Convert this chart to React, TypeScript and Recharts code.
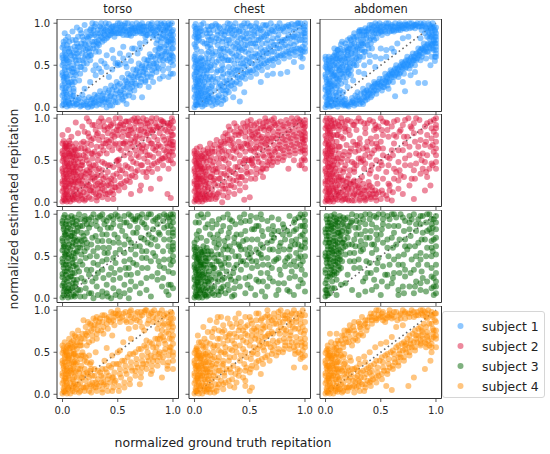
import React from 'react';
import { ScatterChart, Scatter, XAxis, YAxis, ReferenceLine, ReferenceArea } from 'recharts';

const sites = ['torso', 'chest', 'abdomen'];
const subjects = ['subject 1', 'subject 2', 'subject 3', 'subject 4'];
const colors = ['#1E90FF', '#DC143C', '#006400', '#FF8C00'];
const axisTicks = [0, 0.5, 1];
const xLabel = 'normalized ground truth repitation';
const yLabel = 'normalized estimated repitation';

// values in percent: [ground truth, estimated]
const s1Torso = [[0,2],[1,8],[0,14],[2,20],[0,26],[1,32],[0,38],[2,44],[0,50],[1,56],[0,62],[2,68],[1,74],[3,4],[4,12],[3,18],[5,26],[4,34],[3,40],[5,48],[4,56],[3,62],[5,70],[6,78],[7,2],[8,10],[7,16],[6,22],[8,30],[7,38],[8,46],[6,54],[8,62],[7,70],[9,80],
[11,2],[12,8],[10,14],[11,30],[12,38],[10,46],[13,52],[11,60],[12,68],[13,76],[14,84],[10,22],[13,44],
[5,84],[9,90],[13,95],[20,98],[27,100],[3,80],[16,92],[2,88],
[16,1],[17,6],[15,11],[18,15],[16,40],[17,48],[15,56],[18,64],[16,72],[19,80],[17,88],[20,58],[15,32],
[21,2],[22,7],[24,12],[23,0],[22,52],[23,60],[21,68],[24,76],[22,84],[25,92],[24,66],[20,45],
[26,1],[28,5],[27,10],[29,15],[26,62],[28,70],[27,78],[29,86],[26,94],[30,99],[25,56],
[31,2],[33,8],[32,14],[34,19],[31,72],[33,80],[32,88],[34,96],[35,100],[33,66],
[36,3],[38,10],[37,16],[39,22],[36,78],[38,86],[37,94],[39,100],[40,82],
[41,6],[43,13],[42,20],[44,26],[41,84],[43,92],[42,99],[45,88],[40,0],
[46,8],[48,16],[47,24],[49,30],[45,2],[46,90],[48,97],[47,84],[50,100],
[51,12],[53,20],[52,28],[54,35],[50,6],[51,88],[53,95],[52,100],[55,91],
[56,16],[58,24],[57,32],[59,40],[55,8],[56,97],[58,90],[57,100],[60,86],
[61,22],[63,30],[62,38],[64,45],[60,14],[61,92],[63,99],[62,85],[65,94],
[66,28],[68,36],[67,44],[69,52],[65,20],[66,88],[68,96],[67,100],[70,90],
[71,34],[73,42],[72,50],[74,57],[70,26],[71,95],[73,88],[72,100],[75,84],
[76,40],[78,48],[77,56],[79,63],[75,32],[76,92],[78,99],[77,86],[80,94],
[81,44],[83,52],[82,60],[84,68],[80,36],[81,100],[83,90],[82,84],[85,96],
[86,48],[88,56],[87,64],[89,72],[85,42],[86,80],[88,88],[87,95],[89,100],
[91,50],[93,58],[92,66],[94,74],[90,82],[92,90],[93,97],[91,44],
[96,46],[98,54],[97,62],[99,70],[96,78],[98,86],[97,94],[99,100],[100,40],[100,60],[100,80],[100,92],
[25,30],[30,38],[35,42],[40,48],[45,45],[48,52],[50,50],[52,51],[50,53],[55,58],[60,62],[35,55],[40,62],[45,68],[55,72],[65,70],[70,76],[20,22],[30,50],[42,36],[58,48],[62,55],[68,64],[75,78],[28,44],
[58,4],[64,12],[72,12],[78,24],[82,30],[91,37],[98,40],[75,30],[88,34],[96,36],
[1,4],[2,11],[1,17],[0,23],[2,29],[1,35],[0,41],[2,47],[1,53],[0,59],[2,65],[0,71],[4,1],[5,8],[4,15],[3,23],[5,30],[4,37],[6,44],[5,52],[4,59],[6,66],[4,74],[9,5],[9,13],[10,19],[9,27],[10,34],[9,42],[10,50],[9,57],[10,65],[11,72],[12,80],
[13,4],[14,9],[19,3],[20,10],[25,4],[26,9],[30,6],[31,12],[35,8],[36,14],[40,10],[41,17],[44,14],[45,21],[49,20],[50,26],[53,15],[55,25],[58,30],[60,35],[62,28],[64,36],[66,40],[68,46],[70,42],[72,48],[74,46],[76,52],[78,56],[80,60],[82,52],[84,58],[86,62],[88,70],[90,62],[92,72],[94,66],[95,78],[97,58],[99,62],[100,50],[100,70],[98,76],[100,86],[95,90],[97,98],[93,84],[90,92],
[14,60],[15,66],[18,56],[19,70],[20,76],[21,62],[23,82],[25,70],[26,86],[28,92],[29,78],[31,84],[30,66],[32,76],[34,88],[35,94],[36,82],[38,90],[40,96],[42,86],[44,90],[45,96],[47,90],[49,94],[50,88],[52,92],[54,98],[55,86],[57,94],[59,100],[60,92],[62,96],[64,88],[66,94],[68,90],[70,98],[72,92],[74,96],[76,86],[78,92],[80,98],[82,94],[84,88],[86,100],[88,94],[90,98],[92,100],[94,94],[96,100],[74,90],[63,92]];
const s1TorsoExtra = [[3,7],[6,5],[2,36],[6,29],[3,58],[7,64],[1,78],[11,41],[12,56],[13,64],[14,72],[16,48],[17,76],[18,84],[19,52],[21,74],[22,90],[23,70],[24,84],[25,62],[27,88],[28,74],[29,96],[31,78],[32,92],[33,74],[35,84],[37,88],[38,80],[39,92],[41,90],[43,86],[44,94],[46,96],[48,88],[51,94],[53,88],[56,92],[58,86],[61,88],[63,94],[66,91],[69,94],[71,88],[73,96],[76,96],[79,88],[81,92],[83,86],[86,92],[88,84],[91,86],[93,92],[95,84],[97,88],[99,82],
[6,3],[12,4],[17,2],[22,4],[27,2],[29,8],[33,4],[36,10],[38,6],[42,8],[43,2],[47,12],[48,6],[52,18],[54,10],[56,22],[57,13],[59,28],[61,18],[63,24],[65,33],[67,26],[69,38],[71,30],[73,38],[75,45],[77,36],[79,50],[81,40],[83,46],[85,52],[87,46],[89,60],[91,56],[93,64],[95,56],[96,70],[98,64],[100,56],[100,76],[99,90],[95,96],[98,80],[94,80],[89,78],[87,70],[85,76],
[33,46],[38,52],[46,58],[52,64],[57,52],[63,70],[70,70]];

const s1Chest = [[0,0],[1,6],[0,12],[2,18],[0,24],[1,30],[0,36],[2,42],[0,48],[1,54],[0,60],[2,78],[0,84],[1,90],[0,96],[3,3],[4,10],[3,16],[5,22],[4,28],[3,34],[5,40],[4,46],[3,52],[5,58],[4,80],[3,88],[5,94],[7,1],[8,8],[7,14],[6,20],[8,26],[7,32],[8,38],[6,44],[8,50],[7,56],[7,86],[8,100],[6,66],
[11,4],[12,10],[10,16],[13,22],[11,40],[12,46],[10,52],[13,58],[11,64],[12,72],[13,80],[11,88],[12,96],[16,2],[17,8],[15,14],[18,20],[16,26],[17,36],[15,44],[18,50],[16,56],[17,62],[15,70],[18,78],[16,84],[17,92],[19,99],
[21,6],[22,14],[24,20],[23,28],[21,34],[22,56],[24,62],[23,68],[21,74],[22,80],[24,88],[23,94],[26,8],[28,16],[27,24],[29,32],[26,40],[28,60],[27,66],[29,74],[26,82],[28,90],[27,96],[25,50],[30,100],
[31,18],[33,26],[32,34],[34,40],[31,48],[33,56],[32,76],[34,82],[31,88],[33,94],[32,99],[36,22],[38,30],[37,38],[39,44],[36,52],[38,62],[37,70],[39,78],[36,86],[38,92],[37,100],
[41,28],[43,36],[42,44],[44,52],[41,60],[43,68],[42,76],[44,84],[41,90],[43,97],[46,34],[48,42],[47,50],[49,58],[46,66],[48,74],[47,82],[49,88],[46,95],[48,100],
[51,36],[53,44],[52,52],[54,60],[51,68],[53,76],[52,84],[54,90],[51,97],[56,40],[58,48],[57,56],[59,64],[56,72],[58,80],[57,88],[59,94],[56,100],
[61,44],[63,52],[62,60],[64,68],[61,76],[63,84],[62,90],[64,97],[66,48],[68,56],[67,64],[69,72],[66,80],[68,88],[67,94],[69,100],
[71,50],[73,58],[72,66],[74,74],[71,82],[73,90],[72,96],[76,54],[78,62],[77,70],[79,78],[76,86],[78,92],[77,100],
[81,58],[83,66],[82,74],[84,82],[81,90],[83,96],[86,60],[88,68],[87,76],[89,84],[86,92],[88,99],
[91,62],[93,70],[92,78],[94,86],[91,94],[93,100],[96,64],[98,72],[97,80],[99,88],[96,96],[100,66],[100,76],[100,84],[100,92],[100,100],[98,58],
[41,7],[28,10],[71,40],[78,40],[84,42],[97,48],[90,54],[96,60],[45,18],[60,30],[66,38],[35,12],
[1,3],[2,9],[1,15],[0,21],[2,27],[1,33],[0,39],[2,45],[1,51],[0,57],[1,72],[0,75],[2,82],[1,87],[2,94],[1,99],[4,6],[5,13],[4,19],[3,25],[5,31],[4,37],[6,50],[5,54],[4,84],[5,90],[6,98],[9,3],[10,10],[9,18],[10,24],[9,30],[10,36],[9,44],[10,58],[9,76],[10,92],[14,6],[13,12],[14,18],[13,30],[14,36],[14,48],[13,66],[14,74],[14,88],[15,96],[19,4],[20,12],[19,30],[20,42],[20,54],[19,66],[20,82],[21,90],[20,97],[24,4],[25,12],[24,26],[25,36],[24,44],[25,58],[24,70],[25,78],[26,90],[29,20],[30,28],[30,40],[30,56],[30,68],[29,80],[30,94],[34,30],[35,46],[34,64],[35,72],[34,88],[35,96],[39,36],[40,48],[39,56],[40,66],[40,72],[39,84],[40,90],[44,40],[45,48],[44,58],[45,70],[45,80],[44,90],[45,100],[50,44],[50,54],[49,64],[50,80],[50,96],[55,50],[55,64],[55,76],[54,86],[55,96],[60,52],[60,58],[60,70],[60,82],[60,92],[65,56],[65,64],[65,76],[65,86],[65,98],[70,58],[70,66],[70,78],[70,92],[75,62],[75,70],[75,82],[75,96],[80,64],[80,72],[80,80],[80,94],[85,66],[85,72],[85,86],[85,98],[90,68],[90,74],[90,84],[90,90],[95,70],[95,80],[95,92],[94,100],[98,66],[99,94],[100,70],[100,80],[100,88],[100,96]];
const s1ChestExtra = [[2,3],[3,12],[2,24],[3,31],[1,42],[3,47],[2,56],[1,63],[2,69],[3,84],[1,93],[6,4],[7,11],[6,17],[7,24],[6,35],[7,47],[6,59],[7,78],[6,91],[11,7],[12,14],[11,20],[12,33],[11,44],[12,53],[11,76],[12,84],[13,92],[16,10],[15,24],[16,33],[15,50],[16,64],[15,80],[16,97],[21,10],[22,24],[21,44],[22,62],[21,86],[22,96],[26,20],[27,30],[26,46],[27,56],[26,70],[27,86],[31,24],[32,42],[31,56],[32,66],[31,80],[32,92],[36,28],[37,44],[36,60],[37,76],[36,92],[41,34],[42,52],[41,70],[42,82],[41,96],[46,40],[47,56],[46,74],[47,88],[51,42],[52,60],[51,76],[52,92],[56,46],[57,62],[56,80],[57,94],[61,50],[62,66],[61,84],[62,98],[66,54],[67,70],[66,88],[71,56],[72,74],[71,90],[76,60],[77,78],[76,94],[81,62],[82,80],[81,96],[86,64],[87,82],[86,96],[91,66],[92,84],[91,98],[96,68],[97,86],[96,100]];

const s1Abdomen = [[0,0],[1,6],[0,12],[2,18],[0,24],[1,30],[0,36],[2,42],[0,48],[1,54],[0,60],[3,3],[4,10],[3,16],[5,22],[4,28],[3,34],[5,40],[4,46],[3,52],[5,58],[7,2],[8,8],[7,14],[6,20],[8,26],[7,32],[8,38],[6,44],[8,50],[7,56],[8,62],
[11,1],[12,7],[10,14],[13,20],[11,26],[12,32],[10,38],[13,44],[11,50],[12,56],[10,62],[11,68],[14,75],
[16,2],[17,8],[15,12],[18,30],[16,36],[17,42],[15,48],[18,54],[16,60],[17,66],[19,72],[20,80],
[21,1],[22,6],[24,11],[23,38],[21,46],[22,52],[24,58],[23,64],[21,70],[24,76],[22,82],
[26,2],[28,8],[27,14],[29,18],[26,50],[28,58],[27,64],[29,70],[26,76],[28,84],[30,90],
[31,4],[33,10],[32,16],[34,22],[31,60],[33,68],[32,74],[34,80],[31,86],[33,92],
[36,8],[38,14],[37,20],[39,26],[36,66],[38,74],[37,82],[39,88],[36,94],[40,98],
[41,12],[43,18],[42,24],[44,30],[41,76],[43,84],[42,90],[44,96],[45,100],
[46,16],[48,22],[47,28],[49,34],[46,82],[48,88],[47,94],[49,100],
[51,20],[53,28],[52,34],[54,40],[51,86],[53,92],[52,98],[55,95],
[56,26],[58,32],[57,38],[59,44],[56,88],[58,94],[57,100],[60,91],
[61,30],[63,38],[62,44],[64,50],[61,96],[63,100],[62,90],[65,95],
[66,36],[68,42],[67,48],[69,54],[66,92],[68,98],[67,100],[70,94],
[71,40],[73,48],[72,54],[74,60],[71,98],[73,93],[72,100],[75,96],
[76,46],[78,52],[77,58],[79,64],[76,100],[78,95],[80,98],
[81,50],[83,58],[82,64],[84,70],[81,94],[83,100],[85,96],
[86,56],[88,64],[87,70],[89,76],[86,82],[88,98],[87,92],[89,100],
[91,58],[93,66],[92,74],[94,82],[90,88],[92,94],[93,100],
[96,60],[98,68],[97,76],[99,84],[96,90],[98,96],[97,100],[100,64],[100,72],[100,80],[100,88],[100,95],
[25,32],[30,42],[35,50],[40,54],[45,60],[50,58],[55,68],[60,70],[65,76],[70,82],[35,40],[45,48],[55,60],[62,66],[75,84],[20,24],[50,70],[40,62],
[11,68],[20,66],[8,70],[15,78],[26,88],
[63,13],[57,22],[70,30],[72,19],[84,29],[90,29],[99,60],[99,55],[77,38],[81,42],[95,50],
[1,3],[2,9],[1,15],[0,21],[2,27],[1,33],[0,39],[2,45],[1,51],[0,57],[4,1],[5,7],[4,13],[3,19],[5,25],[4,31],[6,37],[5,43],[4,49],[6,55],[3,60],[9,4],[10,10],[9,17],[10,23],[9,29],[10,35],[9,41],[10,47],[9,53],[10,58],[9,65],[14,4],[13,10],[14,28],[13,34],[14,40],[13,46],[14,52],[13,58],[14,64],[13,70],[19,4],[18,10],[19,36],[20,42],[19,48],[20,54],[19,60],[20,68],[18,76],[24,6],[23,44],[25,52],[24,64],[25,70],[23,80],[29,12],[28,50],[30,56],[29,62],[30,74],[29,80],[31,90],[34,4],[35,16],[34,60],[35,66],[34,74],[35,86],[33,86],[38,20],[39,70],[40,80],[39,94],[37,90],[42,70],[44,80],[43,92],[42,98],[46,88],[48,94],[50,90],[50,96],[54,90],[55,100],[59,96],[60,98],[64,92],[66,98],[69,96],[74,98],[78,100],[82,98],[86,100],[90,96],[94,98],[96,96],[99,92],
[43,24],[45,28],[48,30],[50,26],[52,24],[54,32],[55,36],[57,30],[59,38],[60,42],[62,36],[64,42],[65,46],[67,40],[69,48],[70,52],[72,46],[74,52],[75,56],[77,50],[79,56],[80,60],[82,56],[84,62],[85,66],[87,60],[89,68],[90,72],[92,66],[94,72],[95,76],[97,70],[99,76],[98,80],[96,84],[94,88],[92,84],[99,90],[100,68],[100,76],[100,84],[38,10],[35,12],[31,8],[26,5],[20,2],[17,4],[44,20],[40,16]];
const s1AbdomenExtra = [[2,4],[3,10],[2,22],[3,28],[1,46],[3,56],[6,2],[7,9],[6,26],[7,38],[6,50],[7,60],[11,4],[12,17],[11,34],[12,44],[11,58],[12,64],[15,6],[16,18],[15,40],[16,50],[15,56],[16,68],[18,44],[17,58],[21,40],[22,48],[21,58],[22,70],[23,74],[20,62],[26,56],[27,68],[26,82],[28,72],[25,84],[31,68],[32,80],[31,92],[33,76],[36,76],[37,86],[38,92],[35,90],[41,82],[42,94],[44,88],[46,92],[47,98],[49,92],[51,90],[53,96],[56,96],[58,90],[61,92],[63,96],[66,94],[68,92],[71,94],[73,98],[76,94],[79,96],[81,98],[84,96],[87,96],[91,94],[95,94],[97,94],
[18,2],[23,4],[25,8],[28,4],[30,10],[33,6],[35,18],[37,12],[39,18],[41,20],[42,14],[44,26],[46,20],[47,24],[49,28],[51,30],[53,24],[55,30],[56,34],[58,40],[60,36],[61,40],[63,46],[65,40],[66,44],[68,50],[70,46],[71,50],[73,56],[75,50],[76,54],[78,60],[80,56],[81,58],[83,64],[85,62],[86,68],[88,70],[90,66],[91,70],[93,76],[95,70],[96,74],[98,78],[100,60],[97,86],[95,84],[93,90]];

const s2Torso = [[0,1],[1,7],[0,13],[2,19],[0,25],[1,31],[0,37],[2,43],[0,49],[1,55],[0,61],[2,67],[1,73],[3,4],[4,10],[3,16],[5,22],[4,28],[3,34],[5,40],[4,46],[3,52],[5,58],[4,64],[3,70],[7,1],[8,7],[7,13],[6,19],[8,25],[7,31],[8,37],[6,43],[8,49],[7,55],[8,61],[6,67],[10,3],[11,9],[12,15],[10,21],[11,27],[12,33],[10,39],[11,45],[12,51],[10,57],[11,63],[12,70],
[0,80],[8,78],[5,86],[14,82],[18,90],[12,95],[22,100],[24,96],
[15,2],[17,8],[16,14],[18,20],[15,26],[17,32],[16,40],[18,48],[15,56],[17,64],[19,72],[20,2],[22,10],[21,16],[23,24],[20,30],[22,38],[24,46],[21,54],[23,62],[22,70],[24,78],[20,84],[26,4],[28,12],[27,18],[29,26],[26,34],[28,44],[27,52],[29,60],[26,68],[28,76],[30,86],[27,92],
[31,2],[33,8],[32,16],[34,24],[31,32],[33,40],[32,50],[34,58],[31,66],[33,74],[32,82],[34,90],[35,100],[36,6],[38,14],[37,22],[39,30],[36,38],[38,46],[37,62],[39,70],[36,78],[38,86],[37,96],[41,4],[43,12],[42,20],[44,28],[41,36],[43,44],[42,66],[44,74],[41,82],[43,90],[42,98],[46,10],[48,18],[47,26],[49,34],[46,42],[48,70],[47,78],[49,86],[46,94],[48,100],
[50,50],[51,51],[49,49],
[51,14],[53,22],[52,30],[54,38],[51,44],[53,62],[52,70],[54,78],[51,86],[53,94],[52,100],[56,18],[58,26],[57,34],[59,42],[56,56],[58,64],[57,72],[59,80],[56,88],[58,96],[61,24],[63,32],[62,40],[64,48],[61,58],[63,66],[62,74],[64,82],[61,90],[63,98],[66,30],[68,38],[67,46],[69,54],[66,62],[68,70],[67,78],[69,86],[66,94],[68,100],
[71,20],[73,36],[72,44],[74,52],[71,60],[73,68],[72,76],[74,84],[71,92],[73,100],[76,30],[78,40],[77,48],[79,56],[76,66],[78,74],[77,82],[79,90],[76,98],[81,36],[83,46],[82,54],[84,62],[81,70],[83,78],[82,86],[84,94],[81,100],[86,40],[88,50],[87,58],[89,66],[86,74],[88,82],[87,90],[89,98],[91,44],[93,54],[92,62],[94,70],[91,78],[93,86],[92,94],[96,40],[98,50],[97,60],[99,68],[96,76],[98,84],[97,92],[99,100],[100,56],[100,64],[100,72],[100,80],[100,88],[100,46],
[95,10],[98,5],[80,16],[70,14],[88,28],[62,10],
[1,4],[2,10],[1,16],[0,22],[2,28],[1,34],[0,40],[2,46],[1,52],[0,58],[2,64],[0,70],[4,1],[5,7],[4,13],[3,19],[5,25],[4,31],[6,37],[5,43],[4,49],[6,55],[5,61],[4,67],[6,73],[9,4],[10,10],[9,16],[10,24],[9,30],[10,36],[9,42],[10,48],[9,54],[10,60],[9,66],[13,4],[14,10],[13,18],[14,24],[13,30],[14,36],[13,42],[14,48],[13,56],[14,64],[18,4],[19,12],[18,26],[19,36],[18,44],[19,56],[20,64],[24,6],[25,14],[24,20],[25,30],[24,36],[25,42],[26,58],[30,10],[30,20],[30,30],[30,44],[34,12],[35,20],[35,32],[39,10],[40,20],[45,14],[44,22],
[50,80],[55,84],[55,92],[60,86],[60,96],[65,88],[65,100],[70,80],[70,96],[75,88],[75,94],[80,86],[80,96],[85,90],[85,100],[90,88],[90,96],[95,84],[95,94],[100,96],[94,60],[95,66],[98,74],[100,68],[96,56],[90,52],[85,66],[80,70],[75,60],[70,66],[65,72],[60,80],[55,70],[45,62],[40,58],[35,66],[40,74],[45,80],[50,90],[44,92]];
const s2TorsoExtra = [[2,2],[3,9],[2,25],[3,38],[2,56],[3,66],[6,4],[7,22],[6,34],[7,46],[6,58],[7,70],[11,6],[12,24],[11,36],[12,42],[11,54],[12,62],[16,8],[17,22],[16,30],[17,44],[16,52],[17,70],[21,4],[22,20],[21,34],[22,50],[21,60],[23,82],[26,14],[27,28],[26,40],[27,58],[26,74],[29,92],[31,6],[32,22],[31,38],[32,56],[31,80],[33,96],[36,16],[37,28],[36,48],[37,70],[38,90],[41,10],[42,26],[41,44],[42,72],[41,88],[46,4],[47,18],[46,32],[47,68],[46,84],[51,20],[52,38],[51,64],[52,92],[56,24],[57,44],[56,70],[57,96],[61,30],[62,52],[61,70],[62,86],[66,36],[67,56],[66,76],[67,96],[71,44],[72,64],[71,86],[76,36],[77,56],[76,80],[77,94],[81,44],[82,64],[81,84],[86,48],[87,68],[86,88],[91,52],[92,74],[91,96],[96,50],[97,70],[96,90],[99,60],[99,80],[98,94]];

const s2Chest = [[0,1],[1,7],[0,13],[2,19],[0,25],[1,31],[0,37],[2,43],[0,49],[1,55],[0,61],[3,4],[4,10],[3,16],[5,22],[4,28],[3,34],[5,40],[4,46],[3,52],[5,58],[7,1],[8,7],[7,13],[6,19],[8,25],[7,31],[8,37],[6,43],[8,49],[7,55],[8,62],[10,3],[11,9],[12,15],[10,21],[11,27],
[2,64],[5,66],[10,58],[12,64],[14,70],[11,48],[16,60],[18,68],[20,74],[15,54],[22,64],[24,72],[26,78],[28,70],[30,80],[32,86],[27,62],[34,76],[36,84],[38,90],[40,80],[42,88],[44,94],[46,84],[33,68],
[15,4],[17,10],[16,16],[18,22],[15,30],[17,38],[16,44],[20,6],[22,12],[21,20],[23,28],[20,36],[22,46],[24,52],[26,8],[28,16],[27,24],[29,32],[26,42],[28,50],[31,12],[33,20],[32,28],[34,36],[31,46],[33,54],[36,18],[38,26],[37,34],[39,42],[36,52],[38,60],[41,22],[43,30],[42,38],[44,46],[41,56],[43,64],[46,26],[48,34],[47,42],[49,50],[46,60],[48,68],[45,3],[50,6],[25,0],
[51,36],[53,44],[52,52],[54,60],[51,70],[53,78],[52,86],[54,92],[51,98],[56,40],[58,48],[57,56],[59,64],[56,72],[58,80],[57,88],[59,96],[61,46],[63,54],[62,62],[64,70],[61,78],[63,86],[62,94],[64,100],[66,48],[68,56],[67,64],[69,72],[66,80],[68,88],[67,96],[71,52],[73,60],[72,68],[74,76],[71,84],[73,92],[72,100],[76,56],[78,64],[77,72],[79,80],[76,88],[78,96],[81,58],[83,66],[82,74],[84,82],[81,90],[83,98],[86,60],[88,68],[87,76],[89,84],[86,92],[88,100],[91,62],[93,70],[92,78],[94,86],[91,94],[93,100],[96,64],[98,72],[97,80],[99,88],[96,96],[100,40],[100,50],[100,58],[100,66],[100,74],[100,82],[100,90],[100,98],[97,50],[95,44],[85,40],[90,50],
[50,50],[52,50],[60,36],[65,40],[70,44],[75,48],[80,50],[55,28],[62,30],
[1,4],[2,10],[1,16],[0,22],[2,28],[1,34],[0,40],[2,46],[1,52],[0,58],[4,1],[5,7],[4,13],[3,19],[5,25],[4,31],[6,37],[5,43],[4,49],[6,55],[9,4],[10,10],[9,16],[10,24],[9,30],[10,36],[9,42],[9,52],[13,4],[14,10],[13,22],[14,30],[13,40],[14,50],[13,58],[19,4],[18,28],[19,40],[20,52],[18,60],[25,20],[24,34],[25,60],[24,66],[30,6],[30,40],[29,56],[30,74],[35,26],[35,62],[35,70],[40,30],[40,66],[40,72],[42,82],[45,50],[45,70],[46,78],[48,90],[48,96],[50,64],[50,76],[50,84],[55,64],[55,76],[55,82],[56,94],[60,68],[60,76],[60,88],[65,68],[65,76],[65,90],[65,96],[70,56],[70,76],[70,90],[70,98],[75,64],[75,80],[75,94],[80,62],[80,76],[80,92],[85,64],[85,78],[85,94],[90,66],[90,80],[90,96],[95,68],[95,82],[95,98],[98,62],[98,76],[98,92],[100,62],[100,78],[100,94],[97,44],[62,40],[68,50]];
const s2ChestExtra = [[2,3],[3,9],[2,22],[3,28],[1,46],[3,40],[2,58],[6,4],[7,10],[6,28],[7,40],[6,52],[11,6],[12,18],[11,33],[12,42],[11,54],[12,60],[16,8],[17,26],[16,34],[17,48],[16,64],[21,10],[22,28],[21,40],[22,58],[23,68],[26,16],[27,34],[26,52],[27,72],[28,82],[31,20],[32,38],[31,60],[32,74],[31,90],[36,10],[37,42],[36,64],[37,80],[36,94],[41,14],[42,30],[41,48],[42,66],[41,84],[46,18],[47,36],[46,52],[47,70],[46,90],[51,28],[52,46],[51,62],[52,80],[51,92],[56,34],[57,52],[56,66],[57,84],[61,40],[62,56],[61,72],[62,90],[66,44],[67,60],[66,74],[67,86],[71,48],[72,62],[71,78],[72,94],[76,52],[77,68],[76,84],[81,54],[82,70],[81,86],[86,56],[87,72],[86,86],[91,58],[92,74],[91,90],[96,60],[97,76],[96,92],[99,52],[99,70],[99,84]];

const s2Abdomen = [[0,1],[1,7],[0,13],[2,19],[0,25],[1,31],[0,37],[2,43],[0,49],[1,55],[0,61],[2,67],[1,73],[0,79],[2,85],[1,91],[0,97],[3,4],[4,10],[3,16],[5,22],[4,28],[3,34],[5,40],[4,46],[3,52],[5,58],[4,64],[3,70],[5,76],[4,82],[3,88],[5,94],[4,100],[7,1],[8,7],[7,13],[6,19],[8,25],[7,31],[8,37],[6,43],[8,49],[7,55],[6,61],[8,67],[7,80],[8,90],[7,98],[11,3],[12,9],[10,15],[11,21],[12,27],[10,33],[11,45],[12,58],[10,72],[12,86],[11,96],
[15,2],[17,8],[16,14],[18,20],[15,26],[20,4],[22,10],[21,16],[23,22],[20,28],[26,2],[28,8],[27,14],[29,20],[26,26],[31,4],[33,10],[32,16],[34,22],[36,2],[38,8],[37,14],[39,24],[41,4],[43,10],[42,18],[46,2],[48,12],[50,4],[55,8],[58,14],[60,2],
[16,36],[18,44],[15,52],[17,60],[19,68],[16,76],[18,84],[22,38],[24,48],[21,56],[23,64],[25,72],[22,80],[26,36],[28,44],[30,52],[27,60],[29,68],[31,76],[28,86],[33,30],[35,40],[32,48],[36,56],[34,64],[38,72],[36,82],[40,34],[42,44],[40,54],[44,62],[42,70],[46,78],[44,86],[46,30],[48,40],[50,48],[52,56],[48,64],[50,72],[52,80],[55,36],[57,44],[58,20],[62,28],[64,36],[60,62],[62,70],[64,78],[56,86],[66,26],[68,32],[70,62],[72,70],[74,78],[78,28],[80,38],[82,46],[76,56],[84,66],[86,74],[80,82],[88,40],[90,48],[88,58],[92,30],[95,20],[90,14],[80,4],[70,10],[58,52],[66,48],[72,44],[85,56],[94,40],
[15,95],[20,98],[25,92],[30,100],[35,94],[40,98],[45,92],[50,100],[55,95],[60,90],[65,98],[70,92],[75,100],[80,94],[85,98],[90,90],[95,96],[100,100],[18,90],[48,90],[68,86],[78,88],
[100,40],[100,48],[100,56],[100,64],[100,72],[100,80],[100,88],[97,44],[98,60],[96,76],[98,84],[95,66],[92,80],[90,68],
[1,4],[2,10],[1,16],[0,22],[2,28],[1,34],[0,40],[2,46],[1,52],[0,58],[2,64],[0,70],[1,76],[2,82],[0,88],[2,94],[1,100],[4,1],[5,7],[4,13],[6,25],[5,31],[4,37],[6,49],[5,55],[4,61],[6,73],[5,79],[4,85],[6,91],[5,97],[9,4],[10,10],[9,18],[10,26],[9,40],[10,52],[9,62],[10,80],[9,94],[13,6],[14,12],[13,20],[14,30],[13,38],[14,48],[13,66],[14,78],[13,90],[14,100],[18,4],[19,10],[20,16],[19,24],[24,2],[25,8],[24,16],[25,24],[30,12],[30,18],[35,6],[35,14],[40,10],[40,20],[45,6],[45,14],[52,10],[18,96],[28,96],[38,94],[52,96],[62,96],[72,98],[82,100],[92,94],[98,98],[100,92],[26,46],[34,50],[38,62],[46,70],[30,62],[20,50]];
const s2AbdomenExtra = [[2,2],[3,12],[2,25],[3,42],[2,58],[3,68],[2,90],[6,4],[7,16],[6,34],[7,44],[6,66],[7,88],[11,12],[12,30],[11,52],[12,66],[11,80],[12,92],[16,4],[17,18],[16,26],[17,40],[16,56],[17,88],[21,2],[22,22],[21,32],[22,60],[21,86],[23,96],[26,10],[27,20],[26,40],[27,68],[26,92],[31,2],[32,10],[31,26],[32,52],[31,70],[32,96],[36,4],[37,18],[36,46],[37,66],[36,88],[41,6],[42,14],[41,38],[42,58],[41,76],[43,96],[46,10],[47,22],[46,50],[47,66],[46,88],[51,14],[52,28],[51,44],[52,64],[51,86],[56,4],[57,22],[56,54],[57,78],[56,94],[61,12],[62,40],[61,56],[62,80],[66,16],[67,38],[66,62],[67,84],[71,30],[72,52],[71,78],[76,20],[77,44],[76,66],[77,90],[81,28],[82,58],[81,72],[86,34],[87,50],[86,84],[91,36],[92,56],[91,72],[96,46],[97,68],[96,88]];

const s3Torso = [[0,1],[1,8],[0,15],[2,22],[0,29],[1,36],[0,43],[2,50],[0,57],[1,64],[0,71],[2,78],[1,85],[0,92],[2,99],[4,4],[5,12],[4,20],[3,28],[5,36],[4,44],[3,52],[5,60],[4,68],[3,76],[5,84],[4,92],[8,2],[7,10],[9,18],[8,26],[7,34],[9,42],[8,50],[7,58],[9,66],[8,74],[7,82],[9,90],[8,98],[12,6],[11,14],[13,22],[12,40],[11,48],[13,56],[12,64],[11,72],[13,80],[12,88],[11,96],[16,2],[15,32],[17,52],[16,60],[15,70],[17,78],[16,94],
[20,98],[24,94],[28,100],[32,96],[36,100],[40,92],[44,98],[48,100],[52,94],[56,98],[60,100],[64,94],[68,98],[72,100],[76,96],[80,100],[84,94],[88,98],[92,100],[96,96],[100,100],[22,88],[38,88],[58,90],[74,88],
[20,70],[22,78],[26,64],[30,74],[34,82],[28,56],[32,60],[36,68],[40,76],[44,84],[42,60],[46,66],[50,72],[54,80],[48,54],[52,58],[56,64],[60,70],[64,78],[68,84],[62,58],[66,52],[70,62],[74,70],[78,76],[82,82],[86,88],[72,48],[76,56],[80,64],[84,70],[88,76],[92,84],[28,42],[32,40],[36,34],[40,46],[44,36],[48,42],[38,54],[25,50],[56,44],[60,36],[64,42],[68,30],[72,36],[76,24],[80,44],[84,50],[88,38],[92,46],[96,32],[86,22],[90,14],[94,8],[62,20],[58,28],[52,24],[46,22],[40,16],[24,28],[20,20],[30,24],
[20,2],[24,6],[28,0],[32,4],[36,2],[40,6],[44,0],[48,4],[52,2],[56,6],[60,0],[70,6],[80,2],[96,4],[100,12],[98,16],
[100,50],[100,58],[100,66],[100,74],[100,82],[100,90],[98,40],[96,62],[97,70],[95,86],[100,30],
[1,4],[2,11],[1,18],[0,25],[2,32],[1,40],[0,47],[2,54],[1,61],[0,68],[2,75],[1,82],[0,89],[1,96],[5,1],[4,8],[6,16],[5,24],[4,32],[6,40],[5,48],[4,56],[6,64],[5,72],[4,80],[6,88],[5,96],[10,4],[9,12],[10,22],[9,30],[10,38],[9,46],[10,54],[9,62],[10,70],[9,78],[10,86],[9,94],[14,10],[13,36],[14,60],[13,68],[14,84],[15,100],[18,64],[19,74],[18,86],[20,92],[18,40],[20,56],[22,66],[24,84],[26,96],[30,92],[34,98],[42,96],[46,94],[50,98],[62,98],[66,94],[70,96],[78,100],[86,96],[94,98],[98,100],[100,96],[98,86],[100,78],[98,56],[100,44],[100,62]];
const s3TorsoExtra = [[2,14],[3,40],[2,62],[3,88],[6,8],[7,26],[6,52],[7,74],[11,2],[12,18],[11,30],[12,54],[11,78],[13,92],[16,10],[17,24],[16,44],[17,68],[16,86],[21,12],[22,34],[21,48],[22,60],[21,94],[26,6],[27,20],[26,34],[27,72],[26,88],[31,14],[32,30],[31,50],[32,68],[31,86],[36,8],[37,24],[36,44],[37,60],[36,76],[37,94],[41,2],[42,28],[41,54],[42,68],[41,84],[46,12],[47,30],[46,48],[47,76],[46,88],[51,8],[52,34],[51,66],[52,86],[56,16],[57,36],[56,54],[57,74],[56,90],[61,10],[62,28],[61,46],[62,66],[61,86],[66,14],[67,40],[66,62],[67,78],[66,92],[71,18],[72,56],[71,72],[72,90],[76,10],[77,36],[76,48],[77,66],[76,84],[81,26],[82,54],[81,72],[82,92],[86,30],[87,44],[86,62],[87,78],[91,24],[92,36],[91,56],[92,70],[91,92],[96,16],[97,46],[96,78],[97,92]];

const s3Chest = [[0,1],[1,7],[0,13],[2,19],[0,25],[1,31],[0,37],[2,43],[0,49],[1,55],[0,61],[3,4],[4,10],[3,16],[5,22],[4,28],[3,34],[5,40],[4,46],[3,52],[5,58],[7,1],[8,7],[7,13],[6,19],[8,25],[7,31],[8,37],[6,43],[8,49],[7,55],[10,4],[11,12],[10,20],[12,28],[11,36],[10,44],[12,52],[11,60],
[2,70],[4,80],[1,90],[3,98],[8,96],[12,100],[16,92],[6,72],[10,84],[14,76],[18,66],[15,56],
[16,6],[18,14],[15,22],[17,30],[16,40],[18,48],[20,60],[22,70],[24,80],[20,88],[26,96],[22,4],[24,12],[21,20],[23,28],[25,36],[22,44],[24,52],[28,62],[30,72],[32,84],[28,6],[30,16],[27,24],[29,32],[31,40],[28,48],[34,56],[36,66],[38,76],[34,92],[34,2],[36,12],[33,22],[35,30],[38,40],[40,50],[42,58],[44,68],[46,80],[42,90],[40,24],[42,34],[44,44],[48,52],[50,60],[52,70],[54,82],[50,92],[48,16],[46,6],[50,26],[52,36],[56,44],[58,54],[60,64],[62,74],[58,86],[56,96],[55,4],[58,20],[60,30],[62,40],[66,48],[68,58],[70,68],[72,80],[66,92],[64,2],[66,14],[68,24],[70,36],[74,46],[76,56],[78,66],[80,76],[76,94],[74,4],[76,18],[78,28],[82,38],[84,48],[86,58],[88,68],[90,80],[86,98],[84,10],[86,24],[88,32],[90,44],[92,54],[94,64],[96,74],[98,86],[94,96],[100,100],[100,92],[100,80],[100,70],[100,60],[100,50],[96,40],[100,28],[98,18],[100,8],[94,14],[90,4],[80,88],[70,96],[60,100],[45,100],[30,100],
[1,4],[2,10],[1,16],[0,22],[2,28],[1,34],[0,40],[2,46],[1,52],[0,58],[4,1],[5,7],[4,13],[3,19],[5,25],[4,31],[6,37],[5,43],[4,49],[6,55],[9,4],[10,10],[9,16],[10,24],[9,30],[9,40],[10,48],[9,56],[13,4],[14,10],[13,18],[14,24],[13,32],[14,40],[13,48],[0,66],[2,76],[4,90],[6,100],[18,4],[19,24],[18,36],[20,44],[24,8],[25,22],[24,40],[98,96],[96,100],[100,86],[98,76],[100,66],[96,58],[94,48],[98,44],[90,90],[92,70],[84,80],[70,76],[60,52],[50,48],[40,64],[30,58]];
const s3ChestExtra = [[2,2],[3,24],[2,36],[3,48],[2,60],[6,10],[7,28],[6,40],[7,52],[8,62],[11,2],[12,20],[11,44],[12,56],[11,68],[12,88],[16,12],[17,36],[16,52],[17,72],[16,84],[21,8],[22,30],[21,52],[22,64],[21,76],[22,94],[26,14],[27,42],[26,58],[27,68],[26,86],[31,10],[32,26],[31,48],[32,62],[31,78],[32,94],[36,4],[37,20],[36,36],[37,50],[36,72],[37,88],[41,14],[42,44],[41,62],[42,76],[41,96],[46,24],[47,40],[46,58],[47,70],[46,92],[51,12],[52,44],[51,54],[52,82],[51,98],[56,22],[57,38],[56,58],[57,70],[56,86],[61,8],[62,20],[61,48],[62,60],[61,80],[61,94],[66,30],[67,40],[66,66],[67,82],[71,20],[72,44],[71,58],[72,72],[71,86],[76,10],[77,34],[76,48],[77,62],[76,80],[81,18],[82,44],[81,58],[82,70],[81,84],[86,8],[87,40],[86,50],[87,62],[86,76],[91,26],[92,38],[91,64],[92,82],[91,94],[96,22],[97,34],[96,50],[97,62],[96,86]];

const s3Abdomen = [[0,2],[1,10],[0,18],[2,26],[0,34],[1,42],[0,50],[2,58],[0,66],[1,74],[0,82],[2,90],[1,98],[4,30],[5,38],[4,46],[3,54],[5,62],[4,70],[3,78],[5,86],[4,94],[8,28],[7,36],[9,44],[8,52],[7,60],[9,68],[8,76],[7,84],[9,92],[8,100],[12,34],[11,42],[13,50],[12,58],[11,66],[13,74],[12,82],[11,90],[13,98],[16,60],[17,70],[15,80],[16,90],[4,6],[8,12],[6,20],[10,4],[14,16],
[20,96],[24,100],[28,92],[32,98],[36,100],[40,94],[44,98],[48,100],[52,94],[56,98],[60,100],[64,96],[68,100],[72,92],[76,98],[80,100],[84,94],[88,98],[92,100],[96,94],[100,98],[22,86],[30,84],
[20,72],[24,64],[26,54],[22,44],[28,76],[32,68],[34,58],[30,46],[26,36],[20,28],[18,18],[24,10],[30,4],[36,8],[34,20],[38,30],[40,42],[42,54],[36,80],[40,72],[44,64],[46,84],[50,76],[52,66],[48,48],[46,34],[44,22],[42,10],[50,4],[56,14],[54,28],[58,40],[56,60],[60,72],[62,86],[64,64],[66,50],[62,30],[60,18],[66,4],[70,14],[72,26],[70,40],[74,58],[72,70],[76,82],[78,46],[80,34],[82,20],[80,6],[86,10],[88,24],[84,40],[86,54],[84,66],[88,78],[82,88],[92,60],[90,70],[94,82],[96,88],[92,40],[96,26],[98,14],[100,6],[100,20],[100,30],[100,52],[100,62],[100,72],[100,82],[96,50],
[1,6],[2,14],[1,22],[0,30],[2,38],[1,46],[0,54],[2,62],[1,70],[0,78],[2,86],[1,94],[4,26],[5,34],[4,42],[3,50],[5,58],[4,66],[3,74],[5,82],[4,90],[5,98],[8,32],[9,40],[8,48],[7,56],[9,64],[8,72],[7,80],[9,88],[8,96],[12,38],[13,46],[12,54],[11,62],[13,70],[12,78],[11,86],[13,94],[16,66],[17,84],[16,96],[18,52],[20,86],[0,10],[2,4],[6,12],[10,22],[24,92],[28,98],[34,94],[40,100],[46,96],[52,100],[58,94],[62,100],[70,96],[78,94],[86,98],[94,100],[98,94],[98,4],[96,12],[100,14],[98,24],[100,40],[96,60],[98,70],[96,78],[100,90]];
const s3AbdomenExtra = [[2,48],[3,66],[2,82],[6,28],[7,44],[6,54],[7,68],[6,88],[10,30],[11,48],[10,56],[11,78],[10,94],[14,36],[15,44],[14,56],[15,66],[14,76],[15,88],[18,62],[19,78],[18,94],[21,64],[22,54],[21,80],[23,90],[26,44],[27,62],[26,70],[27,84],[31,36],[32,56],[31,62],[32,76],[31,90],[36,24],[37,44],[36,64],[37,72],[36,88],[41,30],[42,64],[41,80],[42,88],[46,14],[47,42],[46,58],[47,70],[46,76],[51,20],[52,38],[51,82],[52,88],[56,28],[57,50],[56,70],[57,86],[61,24],[62,46],[61,60],[62,78],[66,10],[67,30],[66,40],[67,70],[66,86],[71,6],[72,34],[71,52],[72,62],[71,80],[76,14],[77,30],[76,62],[77,74],[76,90],[81,14],[82,50],[81,62],[82,80],[86,18],[87,32],[86,46],[87,70],[86,88],[91,8],[92,20],[91,50],[92,80],[91,90],[96,36],[97,56],[96,68],[97,84]];

const s4Torso = [[0,1],[1,7],[0,13],[2,19],[0,25],[1,31],[0,37],[2,43],[0,49],[1,55],[3,4],[4,10],[3,16],[5,22],[4,28],[3,34],[5,40],[4,46],[3,52],[5,58],[7,1],[8,7],[7,13],[6,19],[8,25],[7,31],[8,37],[6,43],[8,49],[7,55],[11,3],[12,9],[10,15],[11,21],[12,27],[10,33],[11,39],[12,45],[10,51],[11,57],
[2,62],[6,66],[10,64],[9,72],[13,62],[15,68],[14,76],[17,58],[18,72],[20,66],[21,80],[23,74],[25,84],[24,62],[27,70],[28,78],[30,88],[32,82],[34,90],[31,72],[36,86],[38,94],[40,84],[42,92],[44,98],[46,88],[48,96],[50,100],[19,88],[35,76],
[15,2],[17,8],[16,14],[18,20],[15,26],[17,34],[16,42],[18,50],[20,4],[22,10],[21,16],[23,24],[20,30],[22,38],[24,46],[26,2],[28,8],[27,14],[29,22],[26,30],[31,4],[33,10],[32,18],[34,26],[36,6],[38,12],[37,20],[39,30],[41,4],[43,14],[42,22],[44,32],[46,8],[48,16],[47,26],[49,36],
[51,10],[53,20],[52,30],[54,40],[56,14],[58,24],[57,34],[59,44],[61,18],[63,28],[62,38],[64,48],[66,22],[68,32],[67,42],[69,54],[71,26],[73,36],[72,46],[74,58],[76,30],[78,40],[77,50],[79,62],[81,34],[83,44],[82,56],[84,66],
[52,90],[55,96],[58,86],[60,94],[62,100],[65,90],[68,98],[70,86],[72,94],[75,100],[78,88],[80,96],[83,100],[85,90],[88,96],[90,100],[92,84],[95,92],[98,98],[60,78],[66,80],[74,76],
[86,40],[88,50],[87,60],[89,70],[86,78],[91,44],[93,54],[92,64],[94,74],[91,82],[96,46],[98,56],[97,66],[99,76],[96,86],[100,40],[100,50],[100,60],[100,70],[100,80],[100,90],[95,34],
[30,50],[40,55],[45,46],[50,50],[52,52],[55,62],[38,40],[62,66],[25,36],[45,70],
[90,20],[95,30],[100,30],[80,24],[70,12],
[1,4],[2,10],[1,16],[0,22],[2,28],[1,34],[0,40],[2,46],[1,52],[0,58],[4,1],[5,7],[4,13],[3,19],[5,25],[4,31],[6,37],[5,43],[4,49],[6,55],[9,4],[10,10],[9,18],[10,26],[9,30],[10,38],[9,44],[10,48],[9,56],[13,6],[14,12],[13,20],[14,30],[13,38],[14,46],[13,54],[19,8],[19,24],[20,40],[19,46],[24,4],[25,12],[24,20],[25,28],[30,8],[30,14],[29,30],[35,14],[35,22],[40,10],[40,26],[45,4],[45,20],[4,56],[8,62],[12,68],[16,62],[22,70],[26,76],[29,82],[33,86],[37,80],[40,90],[44,86],[47,92],[50,94],[54,92],[57,98],[62,92],[66,96],[70,92],[74,98],[78,94],[82,92],[86,96],[90,90],[94,96],[98,90],[96,80],[99,66],[97,56],[100,46],[93,60],[90,76],[88,66],[85,56],[88,44],[84,50],[80,46],[76,56],[72,40]];
const s4TorsoExtra = [[2,3],[3,24],[2,38],[3,50],[6,8],[7,28],[6,46],[7,60],[11,12],[12,36],[11,48],[12,58],[11,70],[16,4],[17,20],[16,30],[17,46],[16,58],[17,66],[21,8],[22,26],[21,44],[22,58],[21,72],[23,86],[26,10],[27,22],[26,38],[27,64],[26,82],[28,90],[31,12],[32,28],[31,66],[32,76],[31,92],[36,2],[37,14],[36,30],[37,72],[36,94],[41,18],[42,34],[41,78],[42,88],[46,20],[47,14],[46,36],[47,82],[46,96],[51,4],[52,24],[51,36],[52,86],[51,96],[56,8],[57,28],[56,40],[57,88],[61,12],[62,32],[61,48],[62,86],[61,98],[66,28],[67,36],[66,50],[67,88],[71,20],[72,32],[71,54],[72,80],[71,98],[76,36],[77,44],[76,64],[77,84],[76,100],[81,28],[82,40],[81,60],[82,86],[81,98],[86,34],[87,48],[86,66],[87,84],[91,38],[92,50],[91,68],[92,94],[96,38],[97,52],[96,72],[97,84],[99,84],[99,96]];

const s4Chest = [[0,1],[1,7],[0,13],[2,19],[0,25],[1,31],[0,37],[2,43],[0,49],[3,4],[4,10],[3,16],[5,22],[4,28],[3,34],[5,40],[4,46],[3,52],[7,1],[8,7],[7,13],[6,19],[8,25],[7,31],[8,37],[6,43],[8,49],[11,3],[12,9],[10,15],[11,21],[12,27],[10,33],[11,39],[12,45],[14,2],[15,10],[16,18],[14,26],[15,34],[16,42],[17,50],
[2,56],[4,62],[3,70],[7,58],[9,66],[12,74],[8,80],[14,60],[16,68],[18,78],[20,86],[21,58],[23,66],[25,74],[26,82],[28,56],[30,64],[32,72],[34,80],[30,90],[36,60],[38,68],[40,76],[42,86],[44,64],[46,72],[48,82],[50,92],[52,70],[54,78],[56,88],[58,96],[60,74],[62,82],[64,92],[66,100],[68,80],[70,88],[72,96],[74,84],[76,92],[78,100],[80,86],[82,94],[84,98],[86,88],[88,96],[90,100],[92,90],[95,96],[98,100],[14,88],[24,92],[40,96],
[20,4],[22,12],[21,20],[23,28],[20,36],[22,44],[26,6],[28,14],[27,22],[29,30],[26,40],[28,48],[32,10],[34,18],[33,26],[35,34],[32,44],[34,52],[38,14],[40,22],[39,30],[41,40],[38,50],[44,20],[46,28],[45,36],[47,44],[44,54],[50,26],[52,34],[51,42],[53,50],[50,58],[56,32],[58,40],[57,48],[59,58],[55,66],[62,36],[64,44],[63,52],[65,60],[61,68],[68,40],[70,48],[69,56],[71,64],[67,72],[74,46],[76,54],[75,62],[77,72],[80,50],[82,58],[81,66],[83,76],[86,54],[88,62],[87,70],[89,80],
[91,48],[93,58],[92,68],[94,78],[96,42],[98,52],[97,62],[99,72],[96,84],[100,46],[100,56],[100,66],[100,76],[100,86],[100,94],
[50,4],[52,8],[90,32],[100,32],[46,10],[60,24],
[1,4],[2,10],[1,16],[0,22],[2,28],[1,34],[0,40],[2,46],[1,52],[4,1],[5,7],[4,13],[3,19],[5,25],[4,31],[6,37],[5,43],[4,49],[9,4],[10,10],[9,18],[10,26],[9,30],[10,38],[9,44],[10,48],[13,6],[14,14],[13,22],[14,30],[13,38],[14,46],[18,2],[19,12],[18,26],[19,32],[18,44],[24,16],[25,34],[24,50],[6,62],[10,56],[18,58],[22,76],[28,68],[34,64],[38,84],[44,76],[48,70],[52,84],[56,76],[60,88],[64,80],[68,92],[72,84],[76,98],[80,94],[84,90],[88,86],[92,96],[96,90],[98,80],[96,66],[100,60],[98,44],[94,50],[90,56],[86,66],[82,72],[78,80],[70,74],[64,68],[58,64],[54,56]];
const s4ChestExtra = [[2,4],[3,22],[2,34],[3,46],[2,54],[6,10],[7,22],[6,34],[7,46],[8,56],[11,6],[12,18],[11,30],[12,50],[11,62],[16,6],[17,22],[16,36],[17,56],[16,74],[21,8],[22,28],[21,40],[22,52],[21,66],[21,92],[26,12],[27,26],[26,36],[27,50],[26,60],[27,76],[31,16],[32,30],[31,40],[32,54],[31,70],[32,84],[36,8],[37,24],[36,44],[37,56],[36,72],[37,90],[41,28],[42,46],[41,58],[42,68],[41,80],[46,16],[47,32],[46,50],[47,62],[46,80],[46,92],[51,30],[52,48],[51,64],[52,76],[51,88],[56,38],[57,54],[56,70],[57,80],[56,96],[61,42],[62,56],[61,62],[62,78],[61,90],[66,46],[67,60],[66,70],[67,86],[66,94],[71,52],[72,58],[71,72],[72,90],[76,50],[77,64],[76,76],[77,86],[81,54],[82,62],[81,78],[82,90],[86,58],[87,74],[86,82],[87,94],[91,52],[92,62],[91,78],[92,86],[96,48],[97,58],[96,74],[97,94]];

const s4Abdomen = [[0,1],[1,7],[0,13],[2,19],[0,25],[1,31],[0,37],[2,43],[0,49],[3,4],[4,10],[3,16],[5,22],[4,28],[3,34],[5,40],[4,46],[3,52],[7,1],[8,7],[7,13],[6,19],[8,25],[7,31],[8,37],[6,43],[8,49],[11,3],[12,9],[10,15],[11,21],[12,27],[10,33],[11,39],[12,45],[10,55],
[2,58],[5,62],[9,60],[13,52],[14,64],[16,56],[17,70],[19,62],[20,76],[22,68],[24,58],[25,80],[27,72],[29,64],[30,86],[32,78],[34,70],[36,88],[38,80],[40,92],[42,84],[44,96],[46,88],[48,100],[50,92],[52,98],[54,86],[56,94],[58,100],[60,90],[33,92],[4,72],[10,72],[22,82],
[62,98],[65,88],[68,96],[70,100],[72,90],[75,96],[78,100],[80,92],[83,98],[86,100],[88,94],[90,98],[93,100],[96,94],[64,80],[70,82],
[15,2],[17,8],[16,14],[18,20],[15,28],[17,36],[16,44],[20,4],[22,10],[21,16],[23,24],[20,32],[26,2],[28,8],[27,14],[29,22],[31,4],[33,12],[32,20],[34,28],[36,8],[38,16],[37,24],[39,32],[41,10],[43,18],[42,28],[44,36],[46,14],[48,22],[47,32],[49,40],[23,40],[28,32],
[51,18],[53,28],[52,38],[54,46],[56,24],[58,32],[57,42],[59,50],[61,30],[63,38],[62,48],[64,56],[66,34],[68,44],[67,52],[69,60],[71,40],[73,50],[72,58],[74,66],[76,46],[78,56],[77,64],[79,72],[81,52],[83,62],[82,70],[84,78],[86,58],[88,66],[87,76],[89,84],
[91,56],[93,64],[92,74],[94,84],[91,92],[96,60],[98,68],[97,78],[99,88],[100,56],[100,66],[100,76],[100,86],[100,96],[96,50],
[30,42],[40,50],[45,56],[50,60],[55,62],[60,68],[35,45],
[75,10],[60,5],[90,30],[95,40],[80,20],[55,10],
[1,4],[2,10],[1,16],[0,22],[2,28],[1,34],[0,40],[2,46],[1,52],[4,1],[5,7],[4,13],[3,19],[5,25],[4,31],[6,37],[5,43],[4,49],[9,4],[10,10],[9,18],[10,26],[9,30],[10,38],[9,44],[10,48],[13,6],[14,12],[13,20],[14,30],[13,38],[14,46],[19,8],[19,26],[18,38],[24,8],[25,16],[24,30],[30,10],[30,16],[29,28],[35,4],[35,20],[40,14],[40,26],[7,56],[12,60],[15,70],[18,66],[21,74],[25,64],[26,76],[30,70],[31,80],[35,82],[38,88],[42,92],[45,90],[48,94],[52,92],[55,90],[58,96],[60,94],[64,98],[68,90],[72,96],[76,92],[80,98],[84,94],[88,100],[92,96],[96,98],[99,96],[98,76],[100,70],[96,66],[94,58],[92,70],[90,62],[88,74],[86,64],[84,70],[80,62],[76,56],[73,60],[70,52],[66,44]];
const s4AbdomenExtra = [[2,2],[3,22],[2,34],[3,46],[2,54],[6,8],[7,22],[6,34],[7,46],[8,54],[11,6],[12,18],[11,30],[12,52],[11,64],[16,4],[17,24],[16,32],[17,48],[16,60],[17,76],[21,8],[22,20],[21,28],[22,44],[21,62],[22,76],[26,10],[27,20],[26,30],[27,66],[26,86],[31,14],[32,26],[31,36],[32,72],[31,84],[36,12],[37,30],[36,38],[37,76],[36,84],[41,16],[42,22],[41,34],[42,88],[41,96],[46,20],[47,26],[46,40],[47,90],[46,100],[51,24],[52,32],[51,44],[52,88],[51,96],[56,28],[57,36],[56,48],[57,92],[61,34],[62,42],[61,52],[62,92],[66,38],[67,48],[66,58],[67,94],[71,44],[72,54],[71,62],[72,98],[76,50],[77,60],[76,70],[77,96],[81,56],[82,66],[81,76],[82,94],[86,60],[87,70],[86,80],[87,96],[91,60],[92,68],[91,80],[92,90],[96,56],[97,72],[96,84],[97,92]];

const grid = [
  [s1Torso.concat(s1TorsoExtra), s1Chest.concat(s1ChestExtra), s1Abdomen.concat(s1AbdomenExtra)],
  [s2Torso.concat(s2TorsoExtra), s2Chest.concat(s2ChestExtra), s2Abdomen.concat(s2AbdomenExtra)],
  [s3Torso.concat(s3TorsoExtra), s3Chest.concat(s3ChestExtra), s3Abdomen.concat(s3AbdomenExtra)],
  [s4Torso.concat(s4TorsoExtra), s4Chest.concat(s4ChestExtra), s4Abdomen.concat(s4AbdomenExtra)],
];

const FONT = 'DejaVu Sans';
const PW = 121.5;
const PH = 92.5;
const YW = 42;
const XH = 24;
const RM = 14;
const colLeft = [57, 188.5, 320];
const rowTop = [18.5, 114.3, 210.1, 305.9];
const domain: [number, number] = [-0.05, 1.05];
const fmt = (v: number) => v.toFixed(1);
const blank = () => '';

function Panel({ points, color, showX, showY }: { points: number[][]; color: string; showX: boolean; showY: boolean }) {
  const data = points.map(([x, y]) => ({ x: x / 100, y: y / 100 }));
  return (
    <ScatterChart width={PW + YW + RM} height={PH + XH} margin={{ top: 0, right: RM, bottom: 0, left: 0 }}>
      <XAxis
        type="number"
        dataKey="x"
        domain={domain}
        ticks={axisTicks}
        interval={0}
        height={XH}
        axisLine={false}
        tickSize={3.5}
        tickMargin={4.5}
        tickLine={{ stroke: '#333', strokeWidth: 0.8 }}
        tick={{ fontSize: 10, fill: '#262626', fontFamily: FONT }}
        tickFormatter={showX ? fmt : blank}
        allowDataOverflow
      />
      <YAxis
        type="number"
        dataKey="y"
        domain={domain}
        ticks={axisTicks}
        interval={0}
        width={YW}
        axisLine={false}
        tickSize={3.5}
        tickMargin={3.5}
        tickLine={{ stroke: '#333', strokeWidth: 0.8 }}
        tick={{ fontSize: 10, fill: '#262626', fontFamily: FONT }}
        tickFormatter={showY ? fmt : blank}
        allowDataOverflow
      />
      <Scatter
        data={data}
        isAnimationActive={false}
        shape={(p: any) => <circle cx={p.cx} cy={p.cy} r={3} fill={color} fillOpacity={0.5} />}
      />
      <ReferenceLine
        segment={[{ x: 0, y: 0 }, { x: 1, y: 1 }]}
        stroke="#6a6a6a"
        strokeWidth={1.6}
        strokeDasharray="1.6 3"
      />
      <ReferenceArea x1={-0.05} x2={1.05} y1={-0.05} y2={1.05} fill="none" fillOpacity={0} stroke="#333" strokeWidth={1} />
    </ScatterChart>
  );
}

export default function App() {
  return (
    <div style={{ position: 'absolute', left: 0, top: 0, width: 550, height: 454, background: '#fff', fontFamily: FONT }}>
      {grid.map((row, r) =>
        row.map((pts, c) => (
          <div key={`${r}-${c}`} style={{ position: 'absolute', left: colLeft[c] - YW, top: rowTop[r] }}>
            <Panel points={pts} color={colors[r]} showX={r === grid.length - 1} showY={c === 0} />
          </div>
        ))
      )}
      <svg width={550} height={454} style={{ position: 'absolute', left: 0, top: 0, pointerEvents: 'none' }}>
        {sites.map((s, c) => (
          <text key={s} x={colLeft[c] + PW / 2} y={12.5} textAnchor="middle" fontSize={11.4} fill="#222" fontFamily={FONT}>
            {s}
          </text>
        ))}
        <text x={223} y={446.5} textAnchor="middle" fontSize={12.5} fill="#222" fontFamily={FONT}>
          {xLabel}
        </text>
        <text x={17.5} y={209} textAnchor="middle" fontSize={12.5} fill="#222" fontFamily={FONT} transform="rotate(-90 17.5 209)">
          {yLabel}
        </text>
      </svg>
      <div
        style={{
          position: 'absolute',
          left: 442,
          top: 311,
          width: 103,
          height: 87,
          boxSizing: 'border-box',
          border: '1px solid #d6d6d6',
          borderRadius: 3,
          background: 'rgba(255,255,255,0.8)',
        }}
      >
        <svg width={101} height={85} style={{ position: 'absolute', left: 0, top: 0 }}>
          {subjects.map((s, i) => (
            <g key={s}>
              <circle cx={17.5} cy={14 + i * 20} r={3} fill={colors[i]} fillOpacity={0.5} />
              <text x={39} y={18.5 + i * 20} fontSize={12.4} fill="#222" fontFamily={FONT}>
                {s}
              </text>
            </g>
          ))}
        </svg>
      </div>
    </div>
  );
}
